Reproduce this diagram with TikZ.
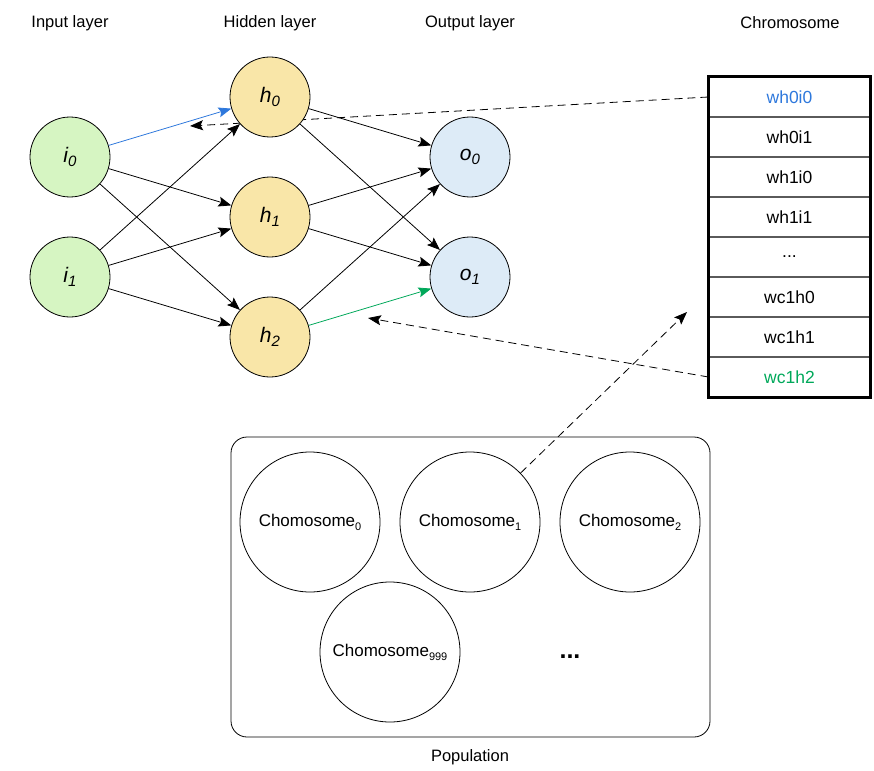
\documentclass[tikz,border=0pt]{standalone}
\usepackage{fontspec}
\setmainfont{Liberation Sans}
\usetikzlibrary{arrows.meta,positioning,backgrounds}

\definecolor{inFill}{RGB}{214,245,194}
\definecolor{hidFill}{RGB}{249,230,168}
\definecolor{outFill}{RGB}{221,235,247}
\definecolor{blueLink}{RGB}{46,120,220}
\definecolor{greenLink}{RGB}{0,168,90}
\definecolor{cellLine}{RGB}{90,90,90}

\newcommand{\lowidx}[1]{\raisebox{-0.35ex}{\fontsize{15}{15}\selectfont #1}}
\newcommand{\chromidx}[1]{\raisebox{-0.45ex}{\fontsize{11}{11}\selectfont #1}}

\tikzset{
  neuron/.style={circle,draw,line width=0.8pt,minimum size=80pt,inner sep=0pt,font=\fontsize{21}{21}\selectfont\itshape},
  inneuron/.style={neuron,fill=inFill},
  hidneuron/.style={neuron,fill=hidFill},
  outneuron/.style={neuron,fill=outFill},
  link/.style={-{Stealth[length=13pt,width=10pt,inset=2.5pt]},line width=0.8pt},
  pointer/.style={-{Stealth[length=13pt,width=10pt,inset=2.5pt]},line width=0.8pt,dash pattern=on 8pt off 5pt},
  gene/.style={draw=cellLine,line width=1.1pt,minimum width=161pt,minimum height=40pt,inner sep=0pt,font=\fontsize{17.5}{17.5}\selectfont},
  chrom/.style={circle,draw,line width=0.8pt,minimum size=140pt,inner sep=0pt,font=\fontsize{17}{17}\selectfont},
  title/.style={font=\fontsize{16.5}{16.5}\selectfont}
}

\begin{document}
\begin{tikzpicture}[x=1pt,y=1pt,yscale=-1,xscale=1]
\useasboundingbox (0,0) rectangle (874,770);

% layer titles
\node[title] (tIn) at (70,23) {Input layer};
\node[title] (tHid) at (270,23) {Hidden layer};
\node[title] (tOut) at (470,23) {Output layer};
\node[title] (tChr) at (790,23) {Chromosome};

% network
\node[inneuron] (i0) at (70,157) {i\lowidx{0}};
\node[inneuron] (i1) at (70,277) {i\lowidx{1}};
\node[hidneuron] (h0) at (270,97) {h\lowidx{0}};
\node[hidneuron] (h1) at (270,217) {h\lowidx{1}};
\node[hidneuron] (h2) at (270,337) {h\lowidx{2}};
\node[outneuron] (o0) at (470,157) {o\lowidx{0}};
\node[outneuron] (o1) at (470,277) {o\lowidx{1}};

\foreach \a/\b in {i0/h1,i0/h2,i1/h0,i1/h1,i1/h2,h0/o0,h0/o1,h1/o0,h1/o1,h2/o0}
  \draw[link] (\a) -- (\b);
\draw[link,blueLink] (i0) -- (h0);
\draw[link,greenLink] (h2) -- (o1);

% chromosome table
\node[gene,text=blueLink] (g0) at (789.5,97) {wh0i0};
\node[gene] (g1) at (789.5,137) {wh0i1};
\node[gene] (g2) at (789.5,177) {wh1i0};
\node[gene] (g3) at (789.5,217) {wh1i1};
\node[gene] (g4) at (789.5,257) {...};
\node[gene] (g5) at (789.5,297) {wc1h0};
\node[gene] (g6) at (789.5,337) {wc1h1};
\node[gene,text=greenLink] (g7) at (789.5,377) {wc1h2};
\draw[line width=2.4pt] (g0.north west) rectangle (g7.south east);

% population
\node[draw,line width=0.8pt,rounded corners=16pt,minimum width=479pt,minimum height=300pt] (pop) at (470.5,587) {};
\node[title] (tPop) at (470,757) {Population};
\node[chrom] (c0) at (310,522) {Chomosome\chromidx{0}};
\node[chrom] (c1) at (470,522) {Chomosome\chromidx{1}};
\node[chrom] (c2) at (630,522) {Chomosome\chromidx{2}};
\node[chrom] (c999) at (390,652) {Chomosome\chromidx{999}};
\node[font=\fontsize{25}{25}\selectfont\bfseries] (more) at (570,657) {...};

% pointers
\coordinate (pW0) at (190,126);
\coordinate (pW7) at (368,318);
\coordinate (pChr) at (687,312);
\begin{scope}[on background layer]
\draw[pointer] (g0.west) -- (pW0);
\draw[pointer] (g7.west) -- (pW7);
\draw[pointer] (c1) -- (pChr);
\end{scope}

\end{tikzpicture}
\end{document}
